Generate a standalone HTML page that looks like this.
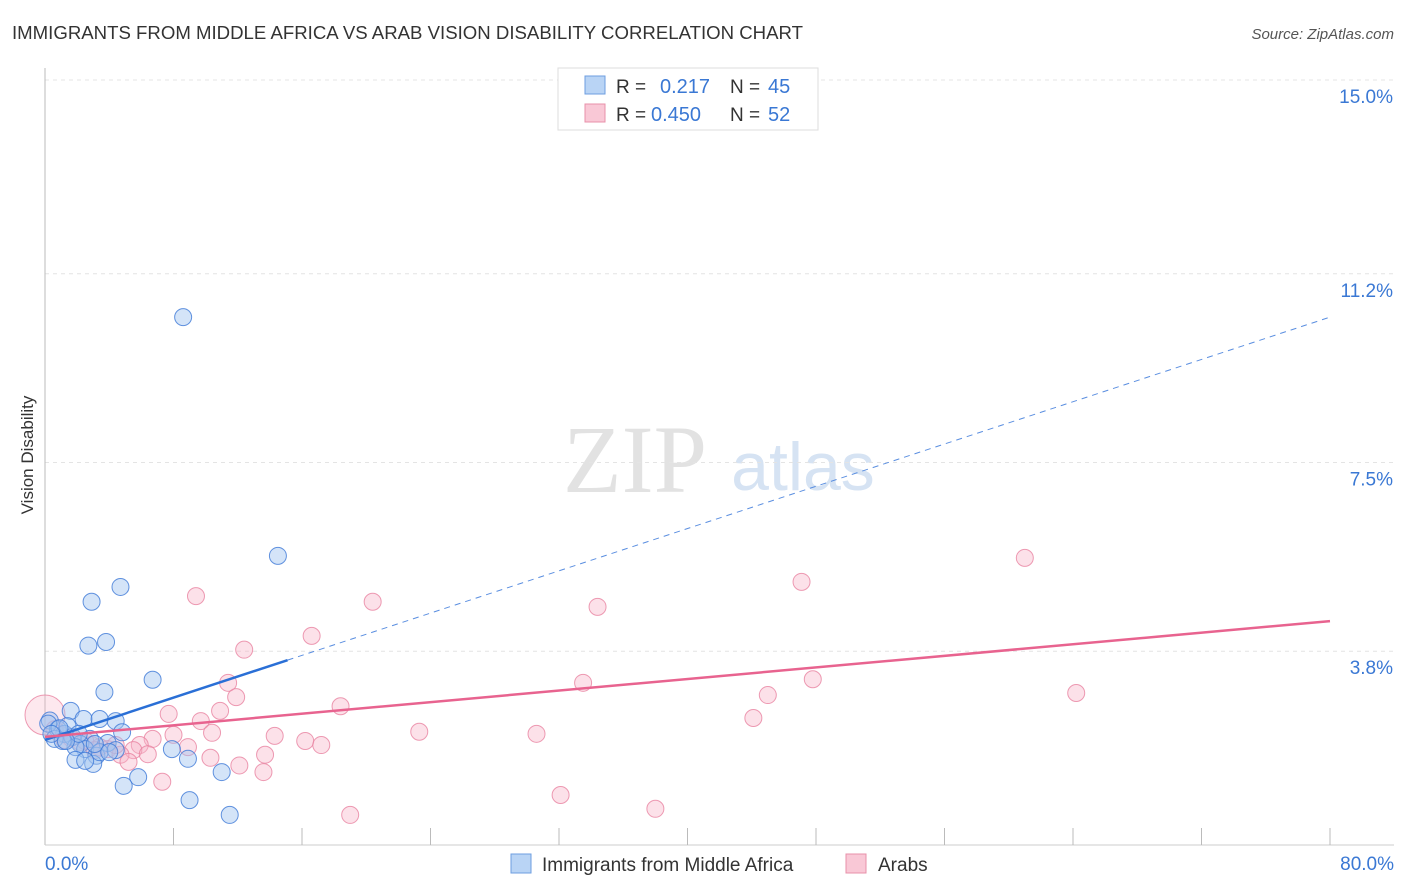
<!DOCTYPE html>
<html><head><meta charset="utf-8"><style>
body{margin:0;background:#fff;font-family:"Liberation Sans",sans-serif;}
#wrap{position:relative;width:1406px;height:892px;overflow:hidden}
</style></head><body>
<div id="wrap">
<svg id="svg" width="1406" height="892" xmlns="http://www.w3.org/2000/svg">
<text x="12" y="39" font-size="18" fill="#333" textLength="791" lengthAdjust="spacingAndGlyphs">IMMIGRANTS FROM MIDDLE AFRICA VS ARAB VISION DISABILITY CORRELATION CHART</text>
<text x="1394" y="39" font-size="15" fill="#555" font-style="italic" text-anchor="end">Source: ZipAtlas.com</text>
<text x="33" y="455" font-size="17" fill="#333" text-anchor="middle" transform="rotate(-90 33 455)">Vision Disability</text>
<g><text x="635" y="492" font-size="96" fill="#e2e2e2" font-family="Liberation Serif,serif" text-anchor="middle">ZIP</text><text x="803" y="490" font-size="68" fill="#d6e3f3" text-anchor="middle">atlas</text></g>
<g id="grid"></g><g id="marks"></g>
<g>
<rect x="558" y="68" width="260" height="62" fill="#fff" stroke="#ddd"/>
<rect x="585" y="76" width="20" height="18" fill="#b9d4f5" stroke="#6d9ee0"/>
<text x="616" y="93" font-size="19" fill="#333">R = </text><text x="660" y="93" font-size="20" fill="#3a78d4">0.217</text>
<text x="730" y="93" font-size="19" fill="#333">N = </text><text x="768" y="93" font-size="20" fill="#3a78d4">45</text>
<rect x="585" y="104" width="20" height="18" fill="#f9c8d6" stroke="#e890aa"/>
<text x="616" y="121" font-size="19" fill="#333">R = </text><text x="651" y="121" font-size="20" fill="#3a78d4">0.450</text>
<text x="730" y="121" font-size="19" fill="#333">N = </text><text x="768" y="121" font-size="20" fill="#3a78d4">52</text>
</g>
<g>
<rect x="511" y="854" width="20" height="19" fill="#b9d4f5" stroke="#6d9ee0"/>
<text x="542" y="871" font-size="19" fill="#333">Immigrants from Middle Africa</text>
<rect x="846" y="854" width="20" height="19" fill="#f9c8d6" stroke="#e890aa"/>
<text x="878" y="871" font-size="19" fill="#333">Arabs</text>
</g>
</svg></div>
<script>
const yTicks=[3.8,7.5,11.2,15.0];
const yTickLabels=["3.8%","7.5%","11.2%","15.0%"];
const xEndLabels=["0.0%","80.0%"];
const blueX=[8.6,14.5,4.7,2.9,3.8,2.7,6.7,3.7,1.6,0.3,2.4,3.4,4.4,4.8,0.8,1.2,1.7,2.8,3.9,0.6,2.2,2.5,1.9,3.2,7.9,8.9,1.9,3.0,2.5,5.8,4.9,11.0,9.0,11.5,1.4,0.2,1.1,3.4,4.4,0.9,2.1,3.1,0.4,4.0,1.3];
const blueY=[10.35,5.67,5.06,4.77,3.98,3.91,3.24,3.00,2.63,2.44,2.47,2.47,2.43,2.21,2.27,2.18,2.12,2.08,2.00,2.08,1.98,1.88,1.92,1.75,1.88,1.69,1.67,1.59,1.65,1.33,1.16,1.43,0.88,0.59,2.33,2.38,2.04,1.82,1.86,2.29,2.18,1.98,2.18,1.82,2.04];
const pinkX=[61.0,47.1,34.4,9.4,20.4,16.6,12.4,11.4,11.9,33.5,47.8,64.2,45.0,18.4,10.9,7.7,9.7,44.1,23.3,30.6,14.3,16.2,17.2,8.0,10.4,6.7,5.9,8.9,5.5,13.7,3.9,4.7,6.4,5.2,10.3,12.1,13.6,7.3,32.1,38.0,19.0,2.9,2.2,1.6,0.9,0.0,3.4,2.5,4.4,1.2,3.1,0.6];
const pinkY=[5.63,5.16,4.67,4.88,4.77,4.10,3.83,3.18,2.90,3.18,3.25,2.98,2.94,2.72,2.63,2.57,2.43,2.49,2.22,2.18,2.14,2.04,1.96,2.16,2.20,2.08,1.96,1.92,1.86,1.77,1.88,1.77,1.78,1.63,1.71,1.56,1.43,1.24,0.98,0.71,0.59,1.96,2.02,2.10,2.18,2.55,1.92,2.04,1.96,2.06,1.86,2.27];
const blueTrend=[2.06,10.35];
const pinkTrend=[2.12,4.39];
const X=v=>45+v*1285/80, Y=v=>845-v*765/15;
const ns="http://www.w3.org/2000/svg";
const g=document.getElementById('grid'), m=document.getElementById('marks');
function mk(p,t,a){const e=document.createElementNS(ns,t);for(const k in a)e.setAttribute(k,a[k]);p.appendChild(e);return e;}
yTicks.forEach((t,i)=>{
 const l=mk(g,'line',{x1:45,x2:1394,y1:Y(t),y2:Y(t),stroke:'#e4e4e4','stroke-dasharray':'4,4'});
 
 
 const tx=mk(g,'text',{x:1393,y:Y(t)+23,'font-size':19,fill:'#3a78d4','text-anchor':'end'});
 tx.textContent=yTickLabels[i];
 
 
});
const ax=mk(g,'line',{x1:45,x2:45,y1:68,y2:845,stroke:'#bbb'});


const bx=mk(g,'line',{x1:45,x2:1394,y1:845,y2:845,stroke:'#ccc'});


for(let i=1;i<=10;i++){const t=mk(g,'line',{x1:X(i*8),x2:X(i*8),y1:828,y2:845,stroke:'#bbb'});
 
 }
[[0,'start',45],[80,'end',1394]].forEach((d,i)=>{const t=mk(g,'text',{x:d[2],y:870,'font-size':19,fill:'#3a78d4','text-anchor':d[1]});t.textContent=xEndLabels[i];
 
 });
pinkX.forEach((x,i)=>{const c=mk(m,'circle',{cx:X(x),cy:Y(pinkY[i]),r:i==45?20:8.5,fill:i==45?'rgba(248,180,200,0.3)':'rgba(248,180,200,0.4)',stroke:'rgba(232,130,160,0.8)','stroke-width':1});
 
 });
blueX.forEach((x,i)=>{const c=mk(m,'circle',{cx:X(x),cy:Y(blueY[i]),r:8.5,fill:'rgba(160,195,240,0.45)',stroke:'rgba(60,120,215,0.8)','stroke-width':1});
 
 });
const bAt=v=>blueTrend[0]+(blueTrend[1]-blueTrend[0])*v/80;
const l1=mk(m,'line',{x1:X(0),y1:Y(bAt(0)),x2:X(15.1),y2:Y(bAt(15.1)),stroke:'#2a6fd6','stroke-width':2.5});


const l2=mk(m,'line',{x1:X(15.1),y1:Y(bAt(15.1)),x2:X(80),y2:Y(bAt(80)),stroke:'#5a8ee0','stroke-width':1,'stroke-dasharray':'6,5'});


const l3=mk(m,'line',{x1:X(0),y1:Y(pinkTrend[0]),x2:X(80),y2:Y(pinkTrend[1]),stroke:'#e8638f','stroke-width':2.5});


</script>
</body></html>
